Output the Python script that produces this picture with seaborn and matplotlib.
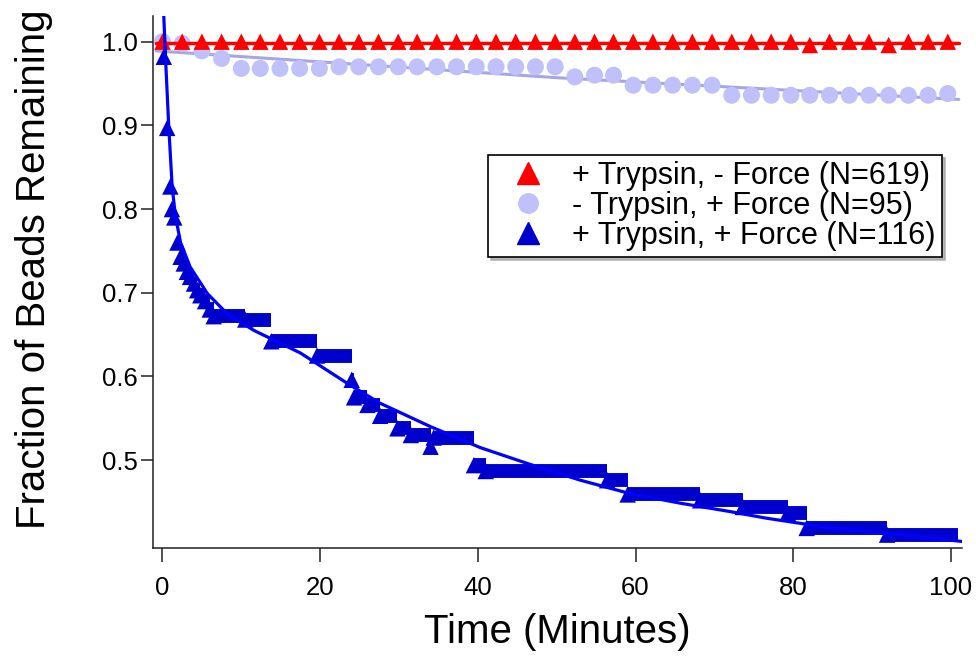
import matplotlib
matplotlib.use('Agg')
import matplotlib.pyplot as plt
import seaborn as sns
from matplotlib.lines import Line2D

# --- data ---
# sampling times of the two control series (minutes)
ctrl_time = [0.0, 2.5, 5.0, 7.5, 10.0, 12.4, 14.9, 17.4, 19.9, 22.4, 24.9, 27.4, 29.9, 32.3,
             34.8, 37.3, 39.8, 42.3, 44.8, 47.3, 49.8, 52.3, 54.8, 57.2, 59.7, 62.2, 64.7,
             67.2, 69.7, 72.2, 74.7, 77.2, 79.7, 82.1, 84.6, 87.1, 89.6, 92.1, 94.6, 97.1, 99.6]

# + Trypsin, - Force
red_frac = [1.0] * 33 + [0.996, 1.0, 1.0, 1.0, 0.996, 1.0, 1.0, 1.0]
red_fit_time = [-0.8, 101.0]
red_fit_frac = [0.998, 0.998]

# - Trypsin, + Force
lav_frac = [1.0, 0.998, 0.989, 0.980, 0.968, 0.968, 0.968, 0.968, 0.968, 0.970, 0.970,
            0.970, 0.970, 0.970, 0.970, 0.970, 0.970, 0.970, 0.970, 0.970, 0.970, 0.958,
            0.960, 0.960, 0.948, 0.948, 0.948, 0.948, 0.948, 0.936, 0.936, 0.936, 0.936,
            0.936, 0.936, 0.936, 0.936, 0.936, 0.936, 0.936, 0.938]
lav_fit_time = [-0.8, 50.0, 101.0]
lav_fit_frac = [0.989, 0.957, 0.931]

# + Trypsin, + Force (fraction steps down at each event time)
blue_time = [0.17, 0.6, 1.0, 1.2, 1.5, 1.9, 2.3, 2.7, 3.1, 3.5, 4.0, 4.4, 4.8, 5.4, 6.0, 6.5,
             10.5, 13.8, 19.6, 24.0, 24.3, 26.0, 27.6, 29.8, 31.5, 34.0, 34.4, 39.5, 41.0,
             56.4, 59.0, 68.2, 73.6, 79.3, 81.7, 91.9]
blue_frac = [0.982, 0.897, 0.827, 0.800, 0.790, 0.760, 0.743, 0.735, 0.725, 0.719, 0.711,
             0.703, 0.697, 0.690, 0.680, 0.672, 0.668, 0.642, 0.625, 0.596, 0.575, 0.566,
             0.553, 0.538, 0.530, 0.516, 0.527, 0.494, 0.487, 0.476, 0.459, 0.452, 0.444,
             0.437, 0.419, 0.411]
blue_end = 100.9
blue_fit_time = [0.1, 0.38, 0.8, 1.23, 1.65, 2.3, 3.5, 5.7, 8.2, 11.6, 17.5, 23.4, 27.6, 34.0,
                 40.3, 46.6, 53.0, 59.3, 65.7, 72.0, 76.6, 85.0, 93.5, 101.5]
blue_fit_frac = [1.046, 0.982, 0.898, 0.827, 0.791, 0.760, 0.731, 0.699, 0.675, 0.655, 0.628,
                 0.592, 0.568, 0.540, 0.515, 0.495, 0.476, 0.460, 0.4485, 0.4385, 0.4306,
                 0.4186, 0.411, 0.4027]

labels = ['+ Trypsin, - Force (N=619)', '- Trypsin, + Force (N=95)', '+ Trypsin, + Force (N=116)']
x_ticks = [0, 20, 40, 60, 80, 100]
y_ticks = [0.5, 0.6, 0.7, 0.8, 0.9, 1.0]

RED = '#FF0000'
LAV = '#C0C0FA'
LAV_LINE = '#A6A6E4'
BLUE = '#0000CC'
BLUE_LINE = '#0000FF'

sns.set_theme(style='ticks')
plt.rcParams['font.family'] = ['Liberation Sans', 'DejaVu Sans']
plt.rcParams['text.color'] = 'black'
plt.rcParams['axes.labelcolor'] = 'black'

fig = plt.figure(figsize=(9.76, 6.6), dpi=100)
ax = fig.add_axes([153 / 976, 1 - 548 / 660, (962 - 153) / 976, (548 - 16) / 660])

# control without trypsin
sns.lineplot(x=lav_fit_time, y=lav_fit_frac, color=LAV_LINE, linewidth=2.2, ax=ax, zorder=2)
sns.scatterplot(x=ctrl_time, y=lav_frac, marker='o', s=150, color=LAV, edgecolor='none',
                linewidth=0, ax=ax, zorder=3, legend=False)

# control without force
sns.lineplot(x=red_fit_time, y=red_fit_frac, color=RED, linewidth=2.5, ax=ax, zorder=4)
sns.scatterplot(x=ctrl_time, y=red_frac, marker='^', s=140, color=RED, edgecolor='none',
                linewidth=0, ax=ax, zorder=5, legend=False)

# trypsin + force: plateaus of densely sampled triangles
ax.hlines(blue_frac, blue_time, blue_time[1:] + [blue_end], color=BLUE, linewidth=10,
          zorder=6)
sns.scatterplot(x=blue_time, y=blue_frac, marker='^', s=140, color=BLUE, edgecolor='none',
                linewidth=0, ax=ax, zorder=7, legend=False)
sns.lineplot(x=blue_fit_time, y=blue_fit_frac, color=BLUE_LINE, linewidth=2.3, ax=ax, zorder=8)

ax.set_xlim(-1.2, 101.4)
ax.set_ylim(0.395, 1.0307)
ax.set_xticks(x_ticks)
ax.set_xticklabels([str(v) for v in x_ticks])
ax.set_yticks(y_ticks)
ax.set_yticklabels([f'{v:.1f}' for v in y_ticks])
sns.despine(ax=ax)
for side in ['left', 'bottom']:
    ax.spines[side].set_linewidth(1.1)
    ax.spines[side].set_color('#222222')
ax.tick_params(axis='x', direction='out', length=10, width=1.1, pad=10, labelsize=18.5,
               colors='#222222', labelcolor='black')
ax.tick_params(axis='y', direction='out', length=9, width=1.1, pad=2, labelsize=18.5,
               colors='#222222', labelcolor='black')

ax.set_xlabel('Time (Minutes)', fontsize=29, color='black')
ax.set_ylabel('Fraction of Beads Remaining', fontsize=29, color='black')
ax.xaxis.set_label_coords(0.5, -0.122)
ax.yaxis.set_label_coords(-0.124, 0.524)

handles = [
    Line2D([], [], marker='^', color=RED, linestyle='none', markersize=16),
    Line2D([], [], marker='o', color=LAV, linestyle='none', markersize=14),
    Line2D([], [], marker='^', color=BLUE, linestyle='none', markersize=16),
]
leg = ax.legend(handles, labels, loc='upper left', bbox_to_anchor=(488 / 976, 1 - 155 / 660),
                bbox_transform=fig.transFigure, borderaxespad=0, fontsize=22,
                frameon=True, fancybox=False, shadow={'color': '0.65', 'alpha': 0.8},
                borderpad=0.2, labelspacing=0.0, handlelength=2.2, handletextpad=0.36)
leg.get_frame().set_edgecolor('black')
leg.get_frame().set_linewidth(1.2)
leg.get_frame().set_facecolor('white')
for txt in leg.get_texts():
    txt.set_color('black')

fig.savefig('out.png', dpi=100)
